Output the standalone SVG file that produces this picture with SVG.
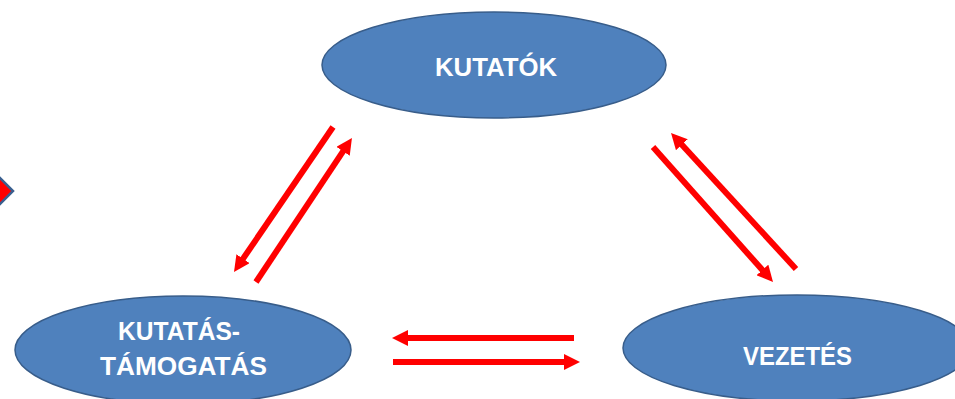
<svg xmlns="http://www.w3.org/2000/svg" width="955" height="399" viewBox="0 0 955 399">
<style>
.node{fill:#4f81bd;stroke:#385d8a;stroke-width:1.5}
.lbl{font-family:"Liberation Sans",Arial,sans-serif;font-weight:bold;font-size:26.5px;fill:#ffffff;text-anchor:middle}
.arr{stroke:#ff0000;stroke-width:6;fill:none;marker-end:url(#head)}
</style>
<defs>
<marker id="head" markerUnits="userSpaceOnUse" markerWidth="16" markerHeight="16" viewBox="0 0 16 16" refX="2" refY="8" orient="auto">
<path d="M0,0 L16,8 L0,16 Z" fill="#ff0000"/>
</marker>
</defs>
<rect width="955" height="399" fill="#ffffff"/>
<polygon points="-15,191 -1,177 13,191 -1,205" fill="#ff0000" stroke="#3a5f8f" stroke-width="2.5"/>
<g id="kutatok">
<ellipse class="node" cx="494" cy="65" rx="172" ry="53"/>
<text class="lbl" x="496" y="76" textLength="122" lengthAdjust="spacingAndGlyphs">KUTATÓK</text>
</g>
<g id="kutatas-tamogatas">
<ellipse class="node" cx="183" cy="350" rx="168" ry="54"/>
<text class="lbl" x="179" y="340" textLength="122" lengthAdjust="spacingAndGlyphs">KUTATÁS-</text>
<text class="lbl" x="183.5" y="375" textLength="167" lengthAdjust="spacingAndGlyphs">TÁMOGATÁS</text>
</g>
<g id="vezetes">
<ellipse class="node" cx="797" cy="348" rx="174" ry="53"/>
<text class="lbl" x="797.5" y="365" textLength="109" lengthAdjust="spacingAndGlyphs">VEZETÉS</text>
</g>
<g id="connectors">
<line class="arr" x1="333" y1="127" x2="241.9" y2="260.4"/>
<line class="arr" x1="256" y1="282" x2="344.2" y2="149.6"/>
<line class="arr" x1="653" y1="147" x2="763.7" y2="271.5"/>
<line class="arr" x1="796" y1="269" x2="680.5" y2="143.3"/>
<line class="arr" x1="574" y1="338" x2="406" y2="338"/>
<line class="arr" x1="393" y1="362" x2="566" y2="362"/>
</g>
</svg>
